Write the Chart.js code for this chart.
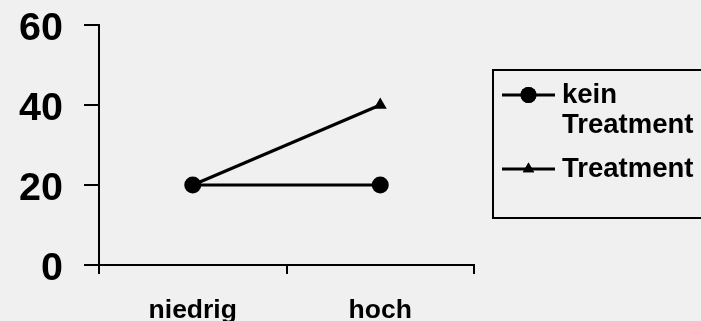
<!DOCTYPE html>
<html>
<head>
<meta charset="utf-8">
<script src="https://cdn.jsdelivr.net/npm/chart.js@4/dist/chart.umd.min.js"></script>
<style>
  html, body { margin: 0; padding: 0; background: #f0f0f0; }
  canvas { display: block; }
</style>
</head>
<body>
<canvas id="c" width="701" height="321"></canvas>
<script>
// Categories and series values
const categories = ['niedrig', 'hoch'];
const seriesNames = ['kein Treatment', 'Treatment'];
const keinTreatment = [20, 20];
const treatment = [20, 40];
const yTicks = [0, 20, 40, 60];

const FONT = '"Liberation Sans", Arial, sans-serif';

// Boxed legend on the right, with word-wrapped labels
const boxLegend = {
  id: 'boxLegend',
  afterDraw(chart, args, opts) {
    const ctx = chart.ctx;
    ctx.save();
    ctx.strokeStyle = '#000';
    ctx.lineWidth = 2;
    ctx.strokeRect(opts.x, opts.y, opts.w, opts.h);

    ctx.font = 'bold ' + opts.fontSize + 'px ' + FONT;
    ctx.fillStyle = '#000';
    ctx.textBaseline = 'middle';
    ctx.textAlign = 'left';
    const maxW = opts.x + opts.w - opts.textX;

    let y = opts.firstY;
    chart.data.datasets.forEach((ds) => {
      // wrap words to fit the box
      const words = ds.label.split(' ');
      const lines = [];
      let cur = '';
      words.forEach(w => {
        const t = cur ? cur + ' ' + w : w;
        if (cur && ctx.measureText(t).width > maxW) { lines.push(cur); cur = w; }
        else cur = t;
      });
      if (cur) lines.push(cur);

      // line sample with its marker
      ctx.strokeStyle = ds.borderColor;
      ctx.lineWidth = ds.borderWidth;
      ctx.beginPath();
      ctx.moveTo(opts.lineX0, y);
      ctx.lineTo(opts.lineX1, y);
      ctx.stroke();
      Chart.helpers.drawPoint(ctx, {
        pointStyle: ds.pointStyle,
        radius: ds.legendPointRadius,
        rotation: 0,
        borderWidth: 0
      }, (opts.lineX0 + opts.lineX1) / 2, y);
      ctx.fillStyle = '#000';
      ctx.fill();

      lines.forEach((ln, i) => {
        ctx.fillText(ln, opts.textX, y + i * opts.lineHeight);
      });
      y += (lines.length - 1) * opts.lineHeight + opts.itemGap;
    });
    ctx.restore();
  }
};

new Chart(document.getElementById('c'), {
  type: 'line',
  data: {
    labels: categories,
    datasets: [
      {
        label: seriesNames[0],
        data: keinTreatment,
        borderColor: '#000',
        backgroundColor: '#000',
        borderWidth: 3,
        pointStyle: 'circle',
        pointRadius: 8.5,
        pointBackgroundColor: '#000',
        pointBorderWidth: 0,
        legendPointRadius: 8
      },
      {
        label: seriesNames[1],
        data: treatment,
        borderColor: '#000',
        backgroundColor: '#000',
        borderWidth: 3,
        pointStyle: 'triangle',
        pointRadius: 7.5,
        pointBackgroundColor: '#000',
        pointBorderWidth: 0,
        legendPointRadius: 6.5
      }
    ]
  },
  options: {
    responsive: false,
    animation: false,
    devicePixelRatio: 1,
    layout: { padding: { top: 25, right: 227, left: 0, bottom: 0 } },
    plugins: {
      legend: { display: false },
      tooltip: { enabled: false },
      boxLegend: {
        x: 493, y: 70, w: 220, h: 148,
        lineX0: 502, lineX1: 555,
        textX: 562, firstY: 95,
        lineHeight: 30, itemGap: 44,
        fontSize: 27.5
      }
    },
    elements: { line: { tension: 0 } },
    scales: {
      x: {
        offset: true,
        grid: {
          offset: true,
          drawOnChartArea: false,
          drawTicks: true,
          tickLength: 9,
          color: '#000',
          lineWidth: 2
        },
        border: { color: '#000', width: 2 },
        ticks: {
          color: '#000',
          padding: 21,
          font: { family: FONT, size: 26.5, weight: 'bold' }
        },
        afterFit(axis) { axis.height = 56; }
      },
      y: {
        min: 0,
        max: 60,
        afterBuildTicks(axis) { axis.ticks = yTicks.map(v => ({ value: v })); },
        grid: {
          drawOnChartArea: false,
          drawTicks: true,
          tickLength: 15,
          color: '#000',
          lineWidth: 2
        },
        border: { color: '#000', width: 2 },
        ticks: {
          color: '#000',
          padding: 21,
          labelOffset: 4,
          font: { family: FONT, size: 39.5, weight: 'bold' }
        },
        afterFit(axis) {
          axis.width = 99;
          axis.paddingTop = 0;
          axis.paddingBottom = 0;
        }
      }
    }
  },
  plugins: [boxLegend]
});
</script>
</body>
</html>
